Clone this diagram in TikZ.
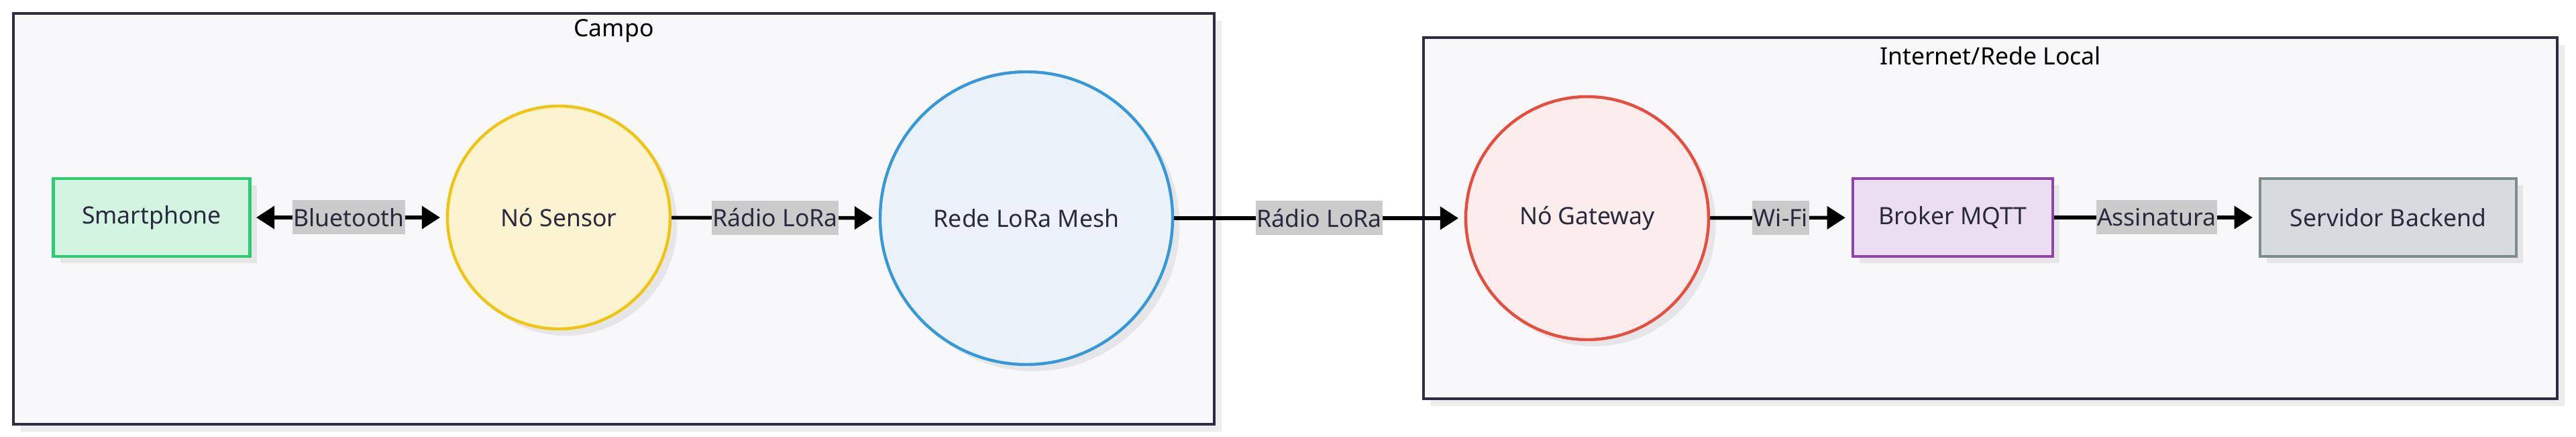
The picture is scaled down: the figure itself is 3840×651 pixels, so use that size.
\documentclass[tikz,border=0pt]{standalone}
\usepackage{fontspec}
\setmainfont{Noto Sans}
\usetikzlibrary{arrows.meta,shadows}
\definecolor{grpfill}{HTML}{F8F8FA}
\definecolor{grpdraw}{HTML}{2C2C44}
\definecolor{grpshadow}{HTML}{EDEDEE}
\definecolor{nshadow}{HTML}{E6E6E8}
\definecolor{txt}{HTML}{2A2A3F}
\definecolor{lblfill}{HTML}{CBCBCB}
\definecolor{smfill}{HTML}{D4F4E2}\definecolor{smdraw}{HTML}{2ECC71}
\definecolor{nsfill}{HTML}{FCF3D0}\definecolor{nsdraw}{HTML}{F1C40F}
\definecolor{mefill}{HTML}{EAF1F8}\definecolor{medraw}{HTML}{3498DB}
\definecolor{gwfill}{HTML}{FCEDED}\definecolor{gwdraw}{HTML}{E74C3C}
\definecolor{brfill}{HTML}{EBDEF0}\definecolor{brdraw}{HTML}{8E44AD}
\definecolor{svfill}{HTML}{D6DBDF}\definecolor{svdraw}{HTML}{7F8C8D}
\begin{document}
\begin{tikzpicture}[x=0.25pt,y=-0.25pt,
  every node/.style={font=\fontsize{8.9pt}{10pt}\selectfont, text=txt},
  grp/.style={draw=grpdraw, fill=grpfill, line width=1.1pt,
    drop shadow={shadow xshift=2.7pt, shadow yshift=-2.7pt, fill=grpshadow, opacity=1}},
  nshad/.style={drop shadow={shadow xshift=2.6pt, shadow yshift=-2.5pt, fill=nshadow, opacity=1}},
  rectnode/.style={rectangle, line width=1.2pt, minimum height=29pt, inner sep=0pt, nshad},
  circnode/.style={circle, line width=1.1pt, inner sep=0pt, nshad},
  grptitle/.style={text=black, inner sep=0pt},
  lbl/.style={fill=lblfill, text=txt, inner xsep=0.4pt, inner ysep=0pt, minimum height=12.75pt},
  conn/.style={line width=1.35pt, -{Triangle[length=6.8pt,width=8.4pt]}, shorten >=2.2pt},
  biconn/.style={line width=1.35pt, {Triangle[length=6.8pt,width=8.4pt]}-{Triangle[length=6.8pt,width=8.4pt]}, shorten >=2.2pt, shorten <=1.8pt}
]
\useasboundingbox[fill=white] (0,0) rectangle (3840,651);
% groups
\node[grp, rectangle, minimum width=447.5pt, minimum height=153pt, inner sep=0pt] (campo) at (915,326) {};
\node[grp, rectangle, minimum width=422.5pt, minimum height=134.5pt, inner sep=0pt] (inet) at (2967,325) {};
\node[grptitle] (campot) at (915,46) {Campo};
\node[grptitle] (inett) at (2967,83) {Internet/Rede Local};
% nodes
\node[rectnode, draw=smdraw, fill=smfill, minimum width=73.2pt] (sm) at (226,324) {Smartphone};
\node[circnode, draw=nsdraw, fill=nsfill, minimum size=83pt] (ns) at (833,324) {Nó Sensor};
\node[circnode, draw=medraw, fill=mefill, minimum size=109pt] (me) at (1530,325) {Rede LoRa Mesh};
\node[circnode, draw=gwdraw, fill=gwfill, minimum size=90.5pt] (gw) at (2366,325) {Nó Gateway};
\node[rectnode, draw=brdraw, fill=brfill, minimum width=74.5pt] (br) at (2911,324) {Broker MQTT};
\node[rectnode, draw=svdraw, fill=svfill, minimum width=95.5pt] (sv) at (3560,324) {Servidor Backend};
% connectors
\draw[biconn] (sm) -- node[lbl] {Bluetooth} (ns);
\draw[conn] (ns) -- node[lbl] {Rádio LoRa} (me);
\draw[conn] (me) -- node[lbl] {Rádio LoRa} (gw);
\draw[conn] (gw) -- node[lbl] {Wi-Fi} (br);
\draw[conn] (br) -- node[lbl] {Assinatura} (sv);
\end{tikzpicture}
\end{document}
